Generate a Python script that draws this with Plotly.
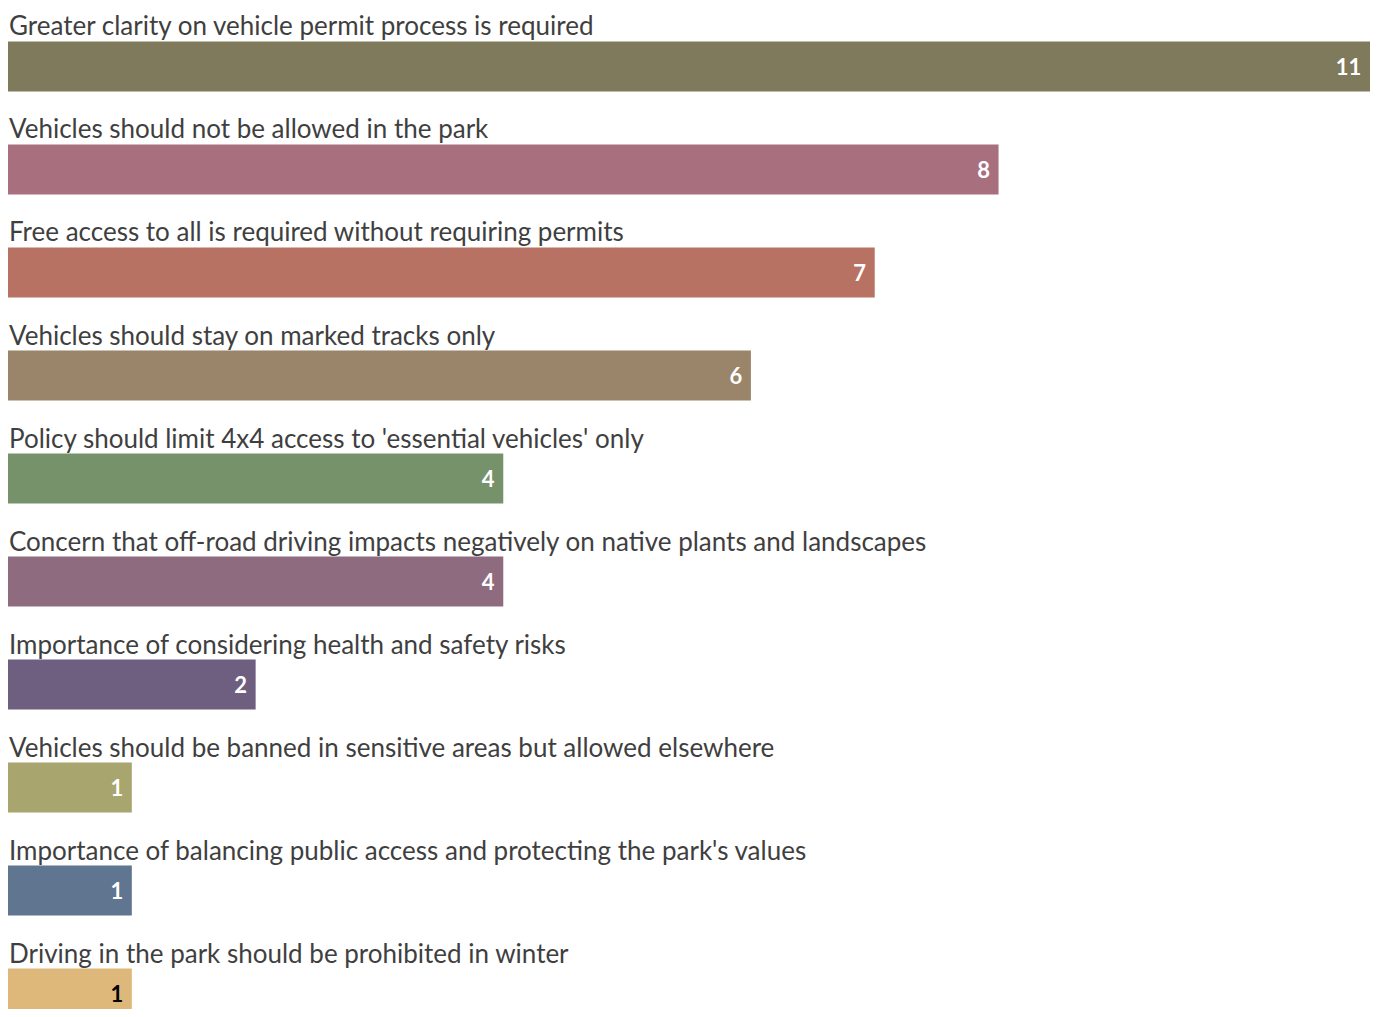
import plotly.graph_objects as go

categories = [
    "Greater clarity on vehicle permit process is required",
    "Vehicles should not be allowed in the park",
    "Free access to all is required without requiring permits",
    "Vehicles should stay on marked tracks only",
    "Policy should limit 4x4 access to 'essential vehicles' only",
    "Concern that off-road driving impacts negatively on native plants and landscapes",
    "Importance of considering health and safety risks",
    "Vehicles should be banned in sensitive areas but allowed elsewhere",
    "Importance of balancing public access and protecting the park's values",
    "Driving in the park should be prohibited in winter",
]
values = [11, 8, 7, 6, 4, 4, 2, 1, 1, 1]
colors = ["#7f7a5b", "#a86f7f", "#b87264", "#9a856a", "#76926b",
          "#8f6b80", "#6e5f80", "#a8a66e", "#5f7590", "#ddb87a"]
text_colors = ["white"] * 9 + ["black"]

W, H = 1362, 1001
row_px = 103.0
first_center_px = 58.5   # page body has an 8px offset
bar_px = 50.0

rows = list(range(len(categories)))
y0 = -first_center_px / row_px
y1 = y0 + H / row_px

fig = go.Figure(go.Bar(
    x=values,
    y=rows,
    orientation="h",
    marker=dict(color=colors, line=dict(width=0)),
    width=bar_px / row_px,
    text=["<b>%d</b>\u00a0" % v for v in values],
    textposition="inside",
    insidetextanchor="end",
    textfont=dict(family="Lato", size=22, color=text_colors),
    cliponaxis=False,
    hoverinfo="skip",
))

for i, c in enumerate(categories):
    fig.add_annotation(
        x=0, y=i - 23 / row_px, xref="x", yref="y",
        text=c, showarrow=False, xanchor="left", yanchor="bottom",
        font=dict(family="Lato", size=26, color="#3f3f3f"),
        xshift=-1,
    )

fig.update_layout(
    width=W, height=H,
    margin=dict(l=0, r=0, t=0, b=0),
    paper_bgcolor="white", plot_bgcolor="white",
    showlegend=False,
    xaxis=dict(range=[0, max(values)], visible=False, fixedrange=True),
    yaxis=dict(range=[y1, y0], visible=False, fixedrange=True),
)

fig.write_html("out.html")
